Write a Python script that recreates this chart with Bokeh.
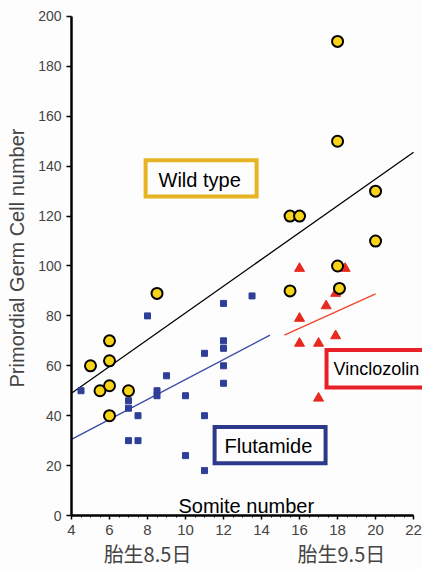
from bokeh.plotting import figure
from bokeh.models import LinearAxis, FixedTicker, Range1d
from bokeh.core.properties import value
from bokeh.embed import file_html
from bokeh.resources import INLINE

# ---- data ----
wt_x = [5, 5.5, 6, 6, 6, 6, 7, 8.5, 15.5, 16, 18, 18, 18, 15.5, 18.1, 20, 20]
wt_y = [60, 50, 70, 62, 52, 40, 50, 89, 120, 120, 190, 150, 100, 90, 91, 130, 110]

flu_x = [4.5, 8, 7, 7, 7.5, 7, 7.5, 8.5, 8.5, 9, 10, 10, 11, 11, 11, 12, 12, 12, 12, 12, 13.5]
flu_y = [50, 80, 46, 43, 40, 30, 30, 50, 48, 56, 48, 24, 65, 40, 18, 85, 70, 67, 60, 53, 88]

vin_x = [16, 18.4, 17.9, 17.4, 16, 16, 17, 17.9, 17]
vin_y = [99, 99, 89, 84, 79, 69, 69, 72, 47]

wt_fit_x = [4, 22]
wt_fit_y = [49, 145.6]
flu_fit_x = [4, 14.45]
flu_fit_y = [30.5, 72.3]
vin_fit_x = [15.2, 20]
vin_fit_y = [72.3, 88.8]

x_ticks = [4, 6, 8, 10, 12, 14, 16, 18, 20, 22]
y_ticks = [0, 20, 40, 60, 80, 100, 120, 140, 160, 180, 200]
stage_ticks = [8, 18.2]
stage_labels = ["胎生8.5日", "胎生9.5日"]

FONT = "Liberation Sans"

p = figure(width=422, height=570, output_backend="svg", toolbar_location=None,
           x_range=Range1d(4, 22.47), y_range=Range1d(0, 206.4),
           min_border_left=71, min_border_right=0, min_border_top=0, min_border_bottom=54)
p.background_fill_color = "#fdfdfd"
p.border_fill_color = "#fdfdfd"
p.outline_line_color = None
p.grid.visible = False

# axes
xa = p.xaxis[0]
xa.ticker = FixedTicker(ticks=x_ticks, minor_ticks=[4 + 0.5 * i for i in range(37)])
xa.bounds = (4, 22)
xa.axis_line_width = 2.5
xa.major_tick_out = 4
xa.major_tick_in = 0
xa.minor_tick_out = 2
xa.minor_tick_in = 0
xa.major_tick_line_width = 1.5
xa.major_label_text_font = FONT
xa.major_label_text_font_size = "15px"
xa.major_label_standoff = 5

ya = p.yaxis[0]
ya.ticker = FixedTicker(ticks=y_ticks)
ya.bounds = (0, 200)
ya.axis_line_width = 2.5
ya.major_tick_out = 5
ya.major_tick_in = 0
ya.minor_tick_line_color = None
ya.major_tick_line_width = 1.5
ya.major_label_text_font = FONT
ya.major_label_text_font_size = "14px"
ya.major_label_standoff = 5
ya.axis_label = "Primordial Germ Cell number"
ya.axis_label_text_font = FONT
ya.axis_label_text_font_style = "normal"
ya.axis_label_text_font_size = "20px"
ya.axis_label_standoff = 7

stage_axis = LinearAxis(ticker=FixedTicker(ticks=stage_ticks),
                        major_label_overrides={t: l for t, l in zip(stage_ticks, stage_labels)})
stage_axis.axis_line_color = None
stage_axis.major_tick_line_color = None
stage_axis.minor_tick_line_color = None
stage_axis.major_tick_out = 0
stage_axis.major_label_text_font = "Noto Sans CJK JP"
stage_axis.major_label_text_font_size = "20px"
stage_axis.major_label_standoff = 1
p.add_layout(stage_axis, "below")

# fit lines
p.line(wt_fit_x, wt_fit_y, line_color="black", line_width=1.3)
p.line(flu_fit_x, flu_fit_y, line_color="#3a4ba6", line_width=1.3)
p.line(vin_fit_x, vin_fit_y, line_color="#f0452a", line_width=1.3)

# markers
p.scatter(flu_x, flu_y, marker="square", size=6, fill_color="#2f3f98", line_color="#2f3f98")
p.scatter(vin_x, vin_y, marker="triangle", size=10, fill_color="#e62a20", line_color="#e62a20")
p.scatter(wt_x, wt_y, marker="circle", size=11, fill_color="#f7d417", line_color="black", line_width=2)

# label boxes
p.quad(left=[7.9], right=[13.74], top=[142.4], bottom=[127.8], fill_color=None,
       line_color="#e6b422", line_width=4, line_join="miter")
p.quad(left=[11.53], right=[17.37], top=[35.5], bottom=[20.9], fill_color=None,
       line_color="#2d3a8c", line_width=4, line_join="miter")
p.quad(left=[17.42], right=[24], top=[66.3], bottom=[51.3], fill_color=None,
       line_color="#e8202a", line_width=4, line_join="miter")

p.text(x=[8.58, 12.05], y=[134.5, 28.0], text=["Wild type", "Flutamide"],
       text_font=value(FONT), text_font_size="20px", text_baseline="middle", text_color="black")
p.text(x=[17.79], y=[58.8], text=["Vinclozolin"],
       text_font=value(FONT), text_font_size="18px", text_baseline="middle", text_color="black")
p.text(x=[9.63], y=[4.0], text=["Somite number"], text_font=value(FONT), text_font_size="20px",
       text_baseline="alphabetic", text_color="black")

open("out.html", "w").write(file_html(p, INLINE))
